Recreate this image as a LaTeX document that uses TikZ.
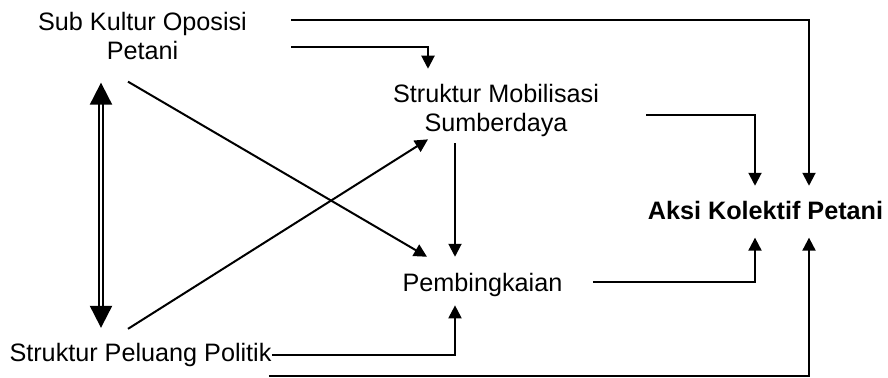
\documentclass[tikz,border=0pt]{standalone}
\usepackage{fontspec}
\setmainfont{Liberation Sans}
\usetikzlibrary{arrows.meta}

\tikzset{
  txt/.style={font=\fontsize{12.6}{14.5}\selectfont, align=center, inner sep=0pt},
  arr/.style={line width=1pt, -{Triangle[length=6.5pt,width=6.5pt]}},
  dbl/.style={line width=1pt, double, double distance=1.15pt,
    {Triangle[length=11pt,width=11pt]}-{Triangle[length=11pt,width=11pt]}},
}

\begin{document}
\begin{tikzpicture}[x=0.5pt,y=-0.5pt]
  \useasboundingbox (0,0) rectangle (888,377);

  % variables (base = last line)
  \node[txt, anchor=base] (sub) at (142.5,59.5) {Sub Kultur Oposisi\\Petani};
  \node[txt, anchor=base] (mob) at (496,131) {Struktur Mobilisasi\\Sumberdaya};
  \node[txt, anchor=base, font=\fontsize{12.6}{14.5}\selectfont\bfseries] (aksi) at (765.5,219) {Aksi Kolektif Petani};
  \node[txt, anchor=base] (pemb) at (482.5,291) {Pembingkaian};
  \node[txt, anchor=base] (spp) at (140.5,361.5) {Struktur Peluang Politik};

  % elbow connectors
  \draw[arr] ([shift={(44,-39.5)}]sub.base east) -| ([shift={(43.5,-14.6)}]aksi.north);
  \draw[arr] ([shift={(44,-12.5)}]sub.base east) -| ([shift={(-68,-14.6)}]mob.north);
  \draw[arr] ([shift={(47,-16)}]mob.base east) -| ([shift={(-10.5,-14.6)}]aksi.north);
  \draw[arr] ([shift={(30,-9)}]pemb.base east) -| ([shift={(-10.5,18)}]aksi.south);
  \draw[arr] ([shift={(-3,14.5)}]spp.base east) -| ([shift={(43.5,18)}]aksi.south);
  \draw[arr] (spp.east) -| ([shift={(-27.5,8.7)}]pemb.south);

  % straight connectors
  \draw[arr] ([shift={(-41,6.7)}]mob.south) -- ([shift={(-27.5,-15.6)}]pemb.north);
  \draw[arr] ([shift={(-14.5,21.5)}]sub.south) -- ([shift={(-55.5,-15.6)}]pemb.north);
  \draw[arr] ([shift={(-12.5,-14)}]spp.north) -- ([shift={(-68,2.7)}]mob.south);

  % two-way link
  \draw[dbl] ([shift={(-41.5,22.5)}]sub.south) -- ([shift={(-39.5,-15)}]spp.north);
\end{tikzpicture}
\end{document}
